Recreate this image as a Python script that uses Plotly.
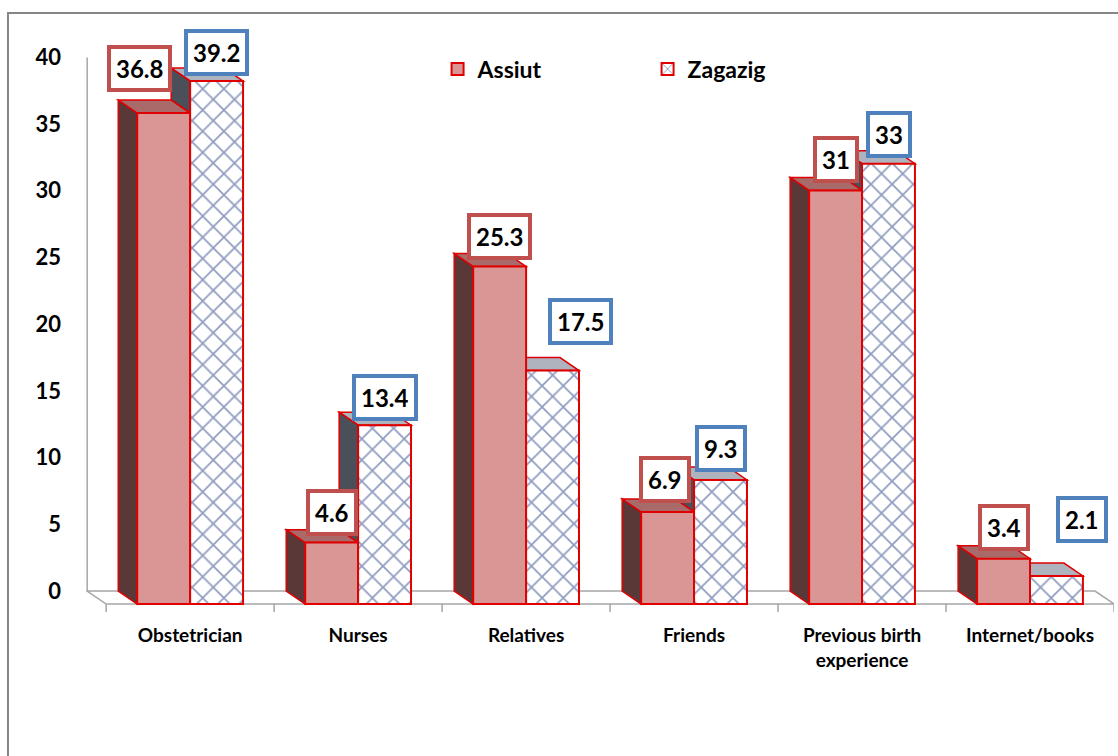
import plotly.graph_objects as go

categories = ["Obstetrician", "Nurses", "Relatives", "Friends", "Previous birth<br>experience", "Internet/books"]
assiut = [36.8, 4.6, 25.3, 6.9, 31, 3.4]
zagazig = [39.2, 13.4, 17.5, 9.3, 33, 2.1]
y_ticks = [0, 5, 10, 15, 20, 25, 30, 35, 40]

# styling
BW = 0.315          # bar width (x units)
DX, DY = 0.113, 0.97  # 3-D depth offset (x units, y units)
RED = "#e00000"
FONT = "Lato, 'Open Sans', sans-serif"
# per-label pixel offsets (xshift, yshift) for the boxed value labels
a_off = [(-24, 45), (0, 30), (0, 30), (-3, 32), (0, 31), (0, 31)]
z_off = [(0, 29), (0, 28), (28, 49), (0, 31), (0, 29), (26, 56)]

xs = list(range(len(categories)))

fig = go.Figure()
fig.add_trace(go.Bar(
    name="Assiut", x=xs, y=assiut, width=BW, offset=-BW,
    marker=dict(color="#d99694", line=dict(color=RED, width=2)),
))
fig.add_trace(go.Bar(
    name="Zagazig", x=xs, y=zagazig, width=BW, offset=0,
    marker=dict(color="white", line=dict(color=RED, width=2),
                pattern=dict(shape="x", fgcolor="#1f3a80", bgcolor="white",
                             size=15, solidity=0.22)),
))

shapes = []

def poly(pts, fill):
    path = "M " + " L ".join(f"{x},{y}" for x, y in pts) + " Z"
    return dict(type="path", path=path, xref="x", yref="y", fillcolor=fill,
                line=dict(color=RED, width=1.5), layer="below")

# floor and back wall
x_lo, x_hi = -0.5, len(categories) - 0.5
floor_line = dict(color="#a6a6a6", width=1.5)
shapes.append(dict(type="path", xref="x", yref="y", layer="below", line=floor_line,
                   fillcolor="rgba(0,0,0,0)",
                   path=f"M {x_lo},0 L {x_hi},0 L {x_hi-DX},{DY} L {x_lo-DX},{DY} Z"))
shapes.append(dict(type="line", xref="x", yref="y", layer="below", line=floor_line,
                   x0=x_lo - DX, x1=x_lo - DX, y0=DY, y1=y_ticks[-1] + DY))
for b in range(len(categories) + 1):
    shapes.append(dict(type="line", xref="x", yref="y", layer="below", line=floor_line,
                       x0=x_lo + b, x1=x_lo + b, y0=0, y1=-0.6))

# Zagazig 3-D faces (drawn first)
for i, (a, z) in enumerate(zip(assiut, zagazig)):
    x0, x1 = i, i + BW
    shapes.append(poly([(x0, z), (x1, z), (x1 - DX, z + DY), (x0 - DX, z + DY)], "#aeb3bd"))
    if z > a:
        shapes.append(poly([(x0, a), (x0, z), (x0 - DX, z + DY), (x0 - DX, a + DY)], "#4a4f5a"))
# Assiut 3-D faces
for i, a in enumerate(assiut):
    x0, x1 = i - BW, i
    shapes.append(poly([(x0, 0), (x0, a), (x0 - DX, a + DY), (x0 - DX, DY)], "#5a3838"))
    shapes.append(poly([(x0, a), (x1, a), (x1 - DX, a + DY), (x0 - DX, a + DY)], "#a86b6a"))

# outer chart border
shapes.append(dict(type="rect", xref="paper", yref="paper", layer="above",
                   x0=-0.0759, x1=1.02, y0=-0.4, y1=(612 - 13) / 555,
                   line=dict(color="#868686", width=2), fillcolor="rgba(0,0,0,0)"))

annotations = []
for i, (a, z) in enumerate(zip(assiut, zagazig)):
    for val, cx, off, col in ((a, i - BW / 2, a_off[i], "#c0504d"),
                              (z, i + BW / 2, z_off[i], "#4f81bd")):
        annotations.append(dict(
            x=cx, y=val, xref="x", yref="y", text=f"<b>{val:g}</b>", showarrow=False,
            xanchor="center", yanchor="middle", xshift=off[0], yshift=off[1],
            font=dict(family=FONT, size=24, color="black"),
            bgcolor="white", bordercolor=col, borderwidth=4, borderpad=5,
        ))

fig.update_layout(
    width=1118, height=756,
    margin=dict(l=86, r=4, t=57, b=144),
    paper_bgcolor="white", plot_bgcolor="white",
    showlegend=True,
    legend=dict(orientation="h", x=0.342, xanchor="left", y=(612 - 69) / 555, yanchor="middle",
                font=dict(family=FONT, size=23, color="black", weight="bold"),
                entrywidth=165, entrywidthmode="pixels", bgcolor="rgba(0,0,0,0)",
                traceorder="normal"),
    xaxis=dict(range=[-0.62, 5.5], tickvals=xs, ticktext=[f"<b>{c}</b>" for c in categories],
               showgrid=False, zeroline=False, showline=False, ticks="",
               ticklabelstandoff=10,
               tickfont=dict(family=FONT, size=19, color="black")),
    yaxis=dict(range=[-0.6, 41], tickvals=y_ticks, ticktext=[f"<b>{t}</b>" for t in y_ticks],
               showgrid=False, zeroline=False, showline=False, ticks="",
               ticklabelshift=-13, ticklabelstandoff=24,
               tickfont=dict(family=FONT, size=22, color="black")),
    shapes=shapes, annotations=annotations,
    bargap=0.37,
)

fig.write_html("out.html")
